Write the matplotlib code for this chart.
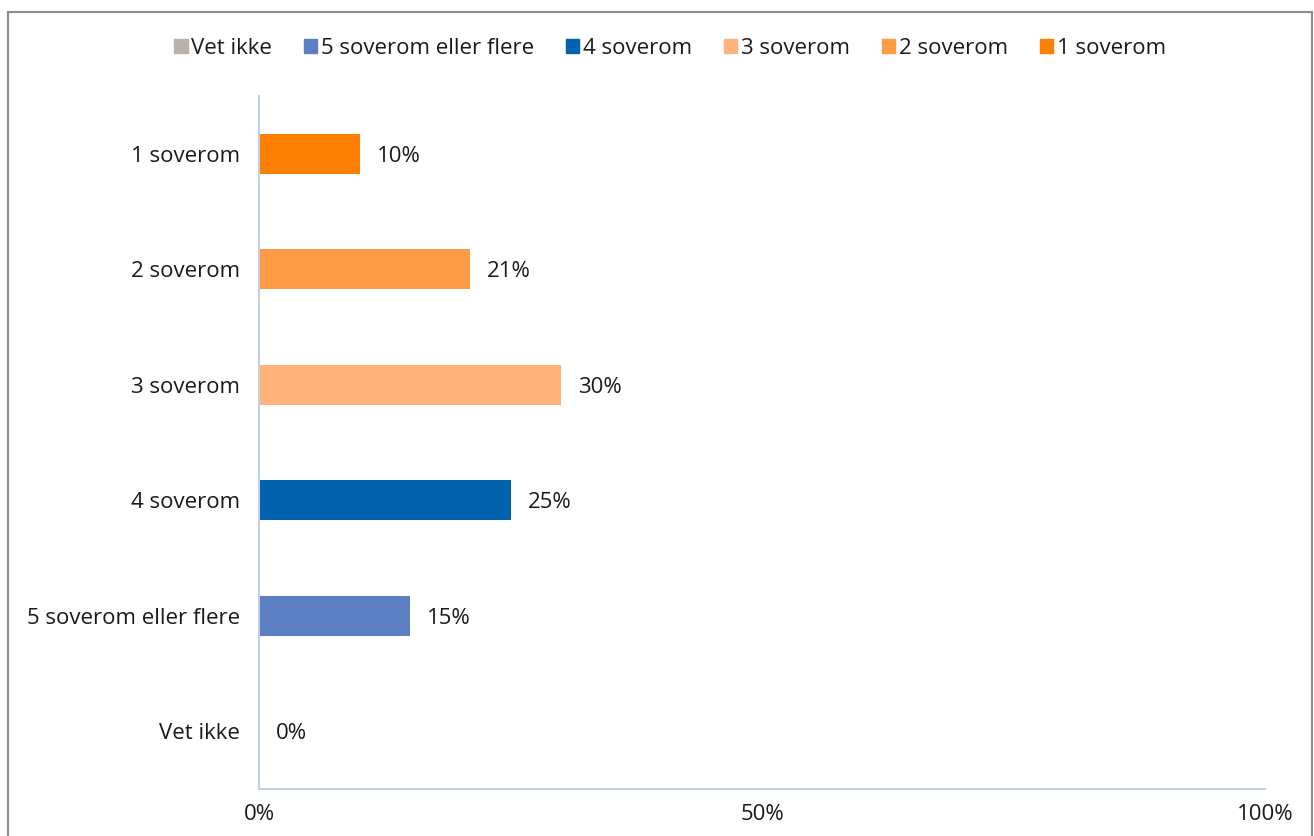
import matplotlib.pyplot as plt
from matplotlib.patches import Rectangle, Patch

categories = ['1 soverom', '2 soverom', '3 soverom', '4 soverom', '5 soverom eller flere', 'Vet ikke']
values = [10, 21, 30, 25, 15, 0]
colors = ['#FF7F00', '#FF9B45', '#FFB27A', '#0063AE', '#5B7FC0', '#BAB0AC']
xticks = [0, 50, 100]

plt.rcParams['font.family'] = ['Open Sans', 'DejaVu Sans']
fs = 16

W, H = 1314, 836
fig = plt.figure(figsize=(W / 100, H / 100), dpi=100)
ax = fig.add_axes([259 / W, 1 - 789 / H, (1265 - 259) / W, (789 - 96) / H])

ypos = list(range(len(categories)))
ax.barh(ypos, values, height=0.35, color=colors)
for y, v in zip(ypos, values):
    ax.text(v + 1.7, y + 0.02, f'{v}%', va='center', ha='left', fontsize=fs, color='#1a1a1a')

ax.set_xlim(0, 100)
ax.set_ylim(len(categories) - 0.5, -0.5)
ax.set_yticks(ypos)
ax.set_yticklabels(categories, fontsize=fs, color='#1a1a1a')
ax.set_xticks(xticks)
ax.set_xticklabels([f'{t}%' for t in xticks], fontsize=fs, color='#1a1a1a')
ax.tick_params(length=0)
ax.tick_params(axis='y', pad=13.5)
ax.tick_params(axis='x', pad=11)
for s in ['top', 'right']:
    ax.spines[s].set_visible(False)
for s in ['left', 'bottom']:
    ax.spines[s].set_color('#C3D0E3')
    ax.spines[s].set_linewidth(1.5)

# legend in reverse category order
handles = [Patch(color=c, label=l) for l, c in zip(categories[::-1], colors[::-1])]
fig.legend(handles=handles, loc='center', bbox_to_anchor=(670 / W, 1 - 48 / H), ncol=6,
           frameon=False, fontsize=fs, handlelength=0.6, handleheight=0.6,
           handletextpad=0.15, columnspacing=1.45, labelcolor='#1a1a1a')

# outer frame
fig.patches.append(Rectangle((8 / W, -0.1), (1312 - 8) / W, 1.1 - 12 / H,
                             transform=fig.transFigure, fill=False,
                             edgecolor='#8c8c8c', linewidth=1.5))

fig.savefig('out.png', dpi=100)
